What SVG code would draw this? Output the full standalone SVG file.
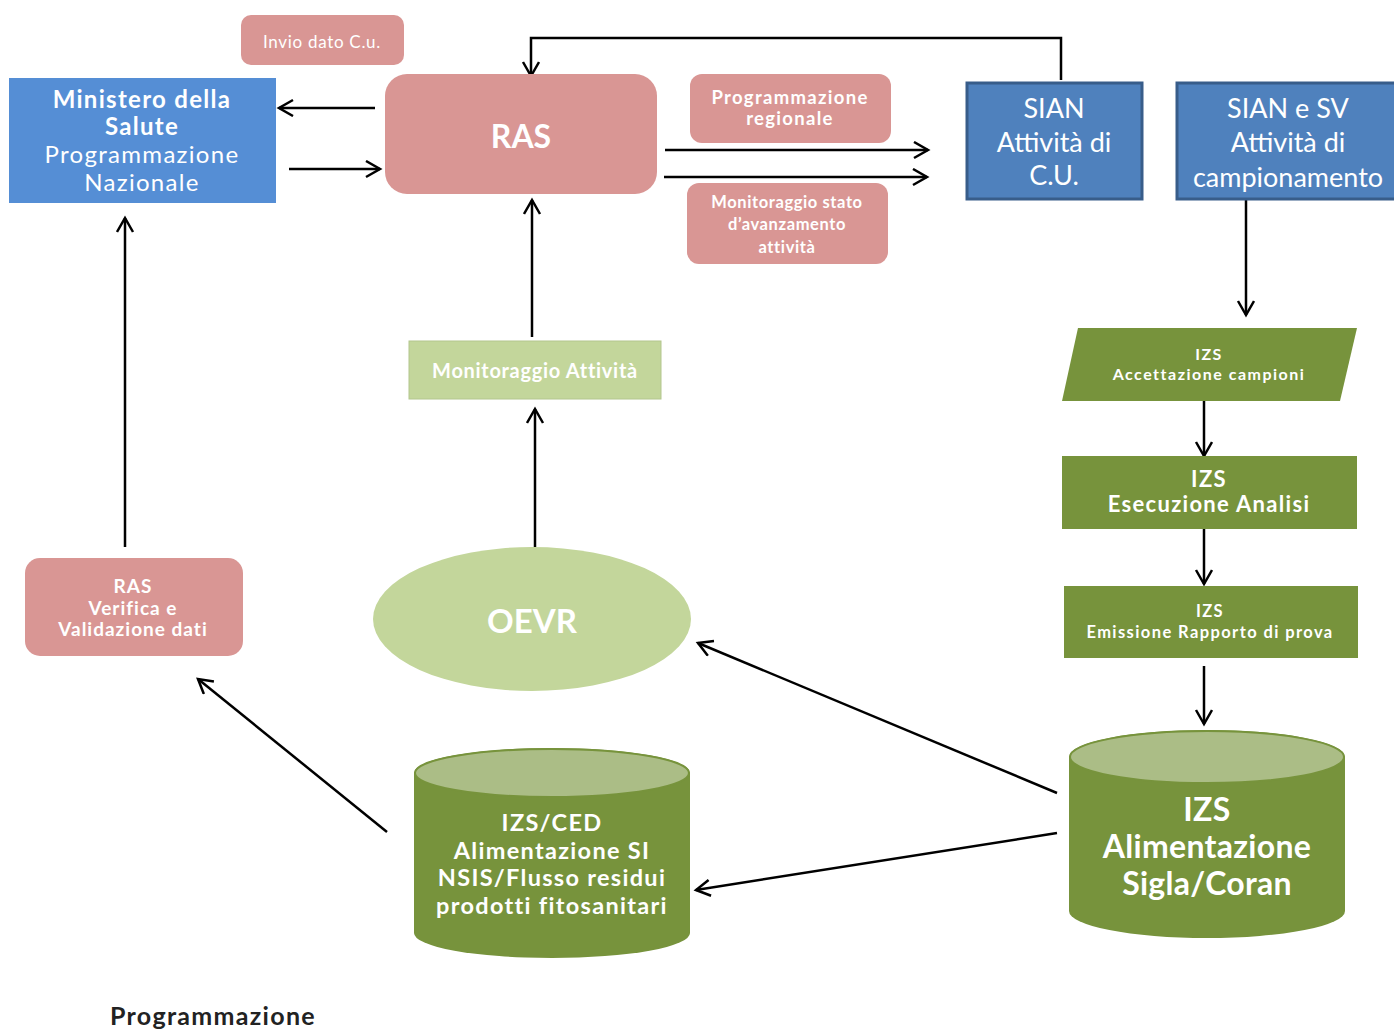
<svg xmlns="http://www.w3.org/2000/svg" width="1394" height="1030" viewBox="0 0 1394 1030">
<style>
text{font-family:Lato,"Open Sans","Liberation Sans",sans-serif;fill:#fff;text-anchor:middle;dominant-baseline:central}
.b{font-weight:bold}
.n{font-weight:normal}
.pink{fill:#d99694}
.blue{fill:#558ed5}
.sian{fill:#4f81bd;stroke:#385d8a;stroke-width:3}
.green{fill:#77933c}
.lg{fill:#c3d69b}
.top{fill:#abbd86;stroke:#77933c;stroke-width:2}
.c{fill:none;stroke:#000;stroke-width:2.5}
</style>
<defs>
<marker id="a" markerUnits="userSpaceOnUse" markerWidth="20" markerHeight="20" refX="15" refY="9" orient="auto">
<path d="M1,1 L15,9 L1,17" fill="none" stroke="#000" stroke-width="2.5"/>
</marker>
</defs>
<rect width="1394" height="1030" fill="#fff"/>
<g id="connectors">
<line class="c" x1="375" y1="108" x2="279" y2="108" marker-end="url(#a)"/>
<line class="c" x1="289" y1="169" x2="380" y2="169" marker-end="url(#a)"/>
<polyline class="c" points="1061,80 1061,38 531,38 531,76" marker-end="url(#a)"/>
<line class="c" x1="665" y1="150" x2="928" y2="150" marker-end="url(#a)"/>
<line class="c" x1="664" y1="177" x2="927" y2="177" marker-end="url(#a)"/>
<line class="c" x1="1246" y1="200" x2="1246" y2="315" marker-end="url(#a)"/>
<line class="c" x1="1204" y1="401" x2="1204" y2="456" marker-end="url(#a)"/>
<line class="c" x1="1204" y1="529" x2="1204" y2="584" marker-end="url(#a)"/>
<line class="c" x1="1204" y1="666" x2="1204" y2="724" marker-end="url(#a)"/>
<line class="c" x1="532" y1="337" x2="532" y2="200" marker-end="url(#a)"/>
<line class="c" x1="535" y1="547" x2="535" y2="409" marker-end="url(#a)"/>
<line class="c" x1="125" y1="547" x2="125" y2="218" marker-end="url(#a)"/>
<line class="c" x1="387" y1="832" x2="198" y2="679" marker-end="url(#a)"/>
<line class="c" x1="1057" y1="793" x2="698" y2="643" marker-end="url(#a)"/>
<line class="c" x1="1057" y1="833" x2="696" y2="890" marker-end="url(#a)"/>
</g>
<g id="invio">
<rect class="pink" x="241" y="15" width="163" height="50" rx="10"/>
<text x="322" y="41" font-size="17" letter-spacing="0.7">Invio dato C.u.</text>
</g>
<g id="ministero">
<rect class="blue" x="9" y="78" width="267" height="125"/>
<text font-size="24" letter-spacing="1.3"><tspan class="b" x="142" y="98">Ministero della</tspan><tspan class="b" x="142" y="125">Salute</tspan><tspan class="n" x="142" y="153">Programmazione</tspan><tspan class="n" x="142" y="181">Nazionale</tspan></text>
</g>
<g id="ras">
<rect class="pink" x="385" y="74" width="272" height="120" rx="22"/>
<text class="b" x="521" y="135" font-size="32">RAS</text>
</g>
<g id="progreg">
<rect class="pink" x="690" y="74" width="201" height="69" rx="12"/>
<text class="b" font-size="18.5" letter-spacing="1.3"><tspan x="790" y="97">Programmazione</tspan><tspan x="790" y="118">regionale</tspan></text>
</g>
<g id="monstato">
<rect class="pink" x="687" y="183" width="201" height="81" rx="12"/>
<text class="b" font-size="16.5" letter-spacing="0.6"><tspan x="787" y="202">Monitoraggio stato</tspan><tspan x="787" y="224">d’avanzamento</tspan><tspan x="787" y="247">attività</tspan></text>
</g>
<g id="sian">
<rect class="sian" x="967" y="83" width="175" height="116"/>
<text font-size="27"><tspan x="1054" y="107">SIAN</tspan><tspan x="1054" y="141">Attività di</tspan><tspan x="1054" y="174">C.U.</tspan></text>
</g>
<g id="siansv">
<rect class="sian" x="1177" y="83" width="222" height="116"/>
<text font-size="27"><tspan x="1288" y="107">SIAN e SV</tspan><tspan x="1288" y="141">Attività di</tspan><tspan x="1288" y="176">campionamento</tspan></text>
</g>
<g id="accettazione">
<polygon class="green" points="1078,328 1357,328 1340,401 1062,401"/>
<text class="b" font-size="16" letter-spacing="1.5"><tspan x="1209" y="353">IZS</tspan><tspan x="1209" y="373">Accettazione campioni</tspan></text>
</g>
<g id="esecuzione">
<rect class="green" x="1062" y="456" width="295" height="73"/>
<text class="b" font-size="22" letter-spacing="1.3"><tspan x="1209" y="478">IZS</tspan><tspan x="1209" y="503">Esecuzione Analisi</tspan></text>
</g>
<g id="emissione">
<rect class="green" x="1064" y="586" width="294" height="72"/>
<text class="b" font-size="16.5" letter-spacing="1.4"><tspan x="1210" y="611">IZS</tspan><tspan x="1210" y="632">Emissione Rapporto di prova</tspan></text>
</g>
<g id="izscoran">
<path class="green" d="M1069,757 A138,27 0 0 1 1345,757 L1345,911 A138,27 0 0 1 1069,911 Z"/>
<ellipse class="top" cx="1207" cy="757" rx="137" ry="26"/>
<text class="b" font-size="32" letter-spacing="0.3"><tspan x="1207" y="808">IZS</tspan><tspan x="1207" y="845">Alimentazione</tspan><tspan x="1207" y="882">Sigla/Coran</tspan></text>
</g>
<g id="izsced">
<path class="green" d="M414,773 A138,25 0 0 1 690,773 L690,933 A138,25 0 0 1 414,933 Z"/>
<ellipse class="top" cx="552" cy="773" rx="137" ry="24"/>
<text class="b" font-size="23.5" letter-spacing="1.3"><tspan x="552" y="822">IZS/CED</tspan><tspan x="552" y="849.5">Alimentazione SI</tspan><tspan x="552" y="877">NSIS/Flusso residui</tspan><tspan x="552" y="904.5">prodotti fitosanitari</tspan></text>
</g>
<g id="oevr">
<ellipse class="lg" cx="532" cy="619" rx="159" ry="72"/>
<text class="b" x="532" y="620" font-size="33">OEVR</text>
</g>
<g id="monatt">
<rect class="lg" x="409" y="341" width="252" height="58" stroke="#b3c68e" stroke-width="1"/>
<text class="b" x="535" y="370" font-size="20" letter-spacing="0.7">Monitoraggio Attività</text>
</g>
<g id="rasverifica">
<rect class="pink" x="25" y="558" width="218" height="98" rx="15"/>
<text class="b" font-size="19" letter-spacing="1"><tspan x="133" y="585">RAS</tspan><tspan x="133" y="607">Verifica e</tspan><tspan x="133" y="628">Validazione dati</tspan></text>
</g>
<text class="b" x="110" y="1025" font-size="25" letter-spacing="1.3" style="fill:#222;text-anchor:start;dominant-baseline:alphabetic">Programmazione</text>
</svg>
